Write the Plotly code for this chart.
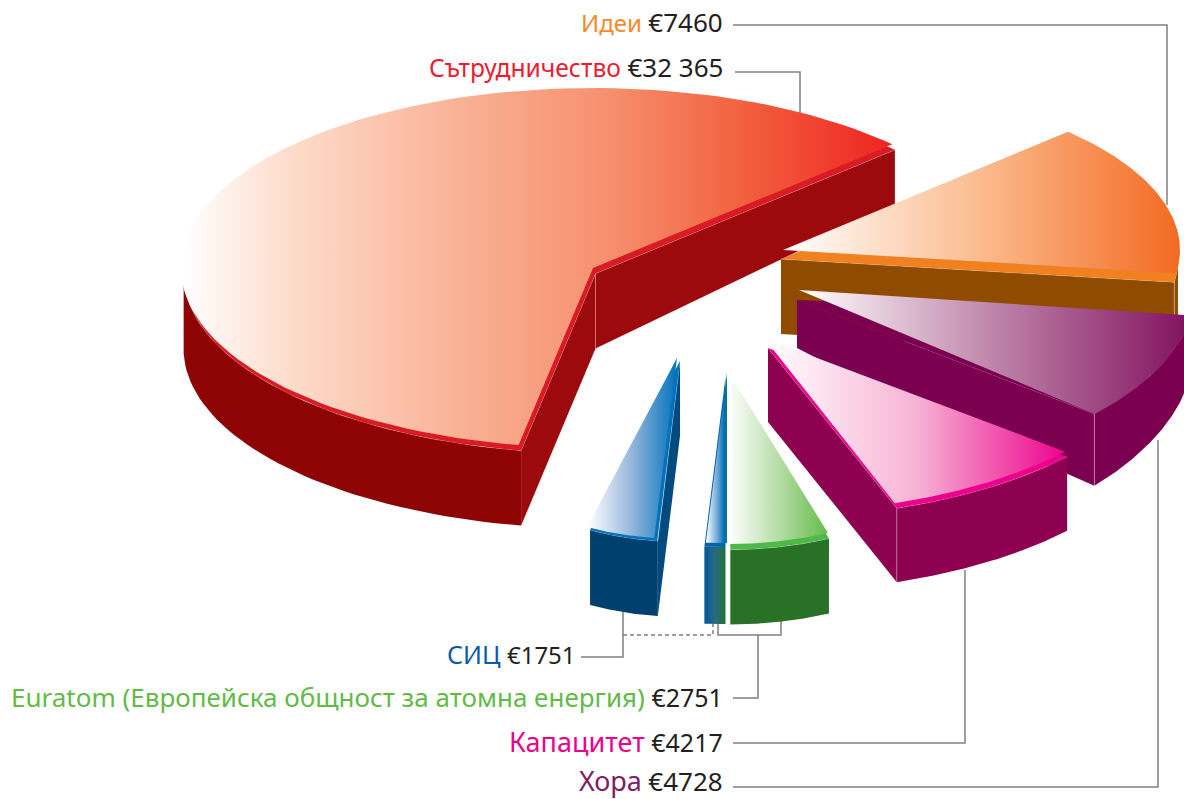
import numpy as np
import plotly.graph_objects as go

# ---- data ----
label_names = ["Идеи", "Сътрудничество", "СИЦ", "Euratom (Европейска общност за атомна енергия)", "Капацитет", "Хора"]
label_values = [7460, 32365, 1751, 2751, 4217, 4728]
label_colors = ["#f58a2c", "#ed1c2e", "#0a5aa8", "#62bb46", "#ec008c", "#7f1d66"]

slice_names = ["Сътрудничество", "Идеи", "Хора", "Капацитет", "Euratom", "СИЦ (тясна част)", "СИЦ"]
slice_values = [32365, 7460, 4728, 4217, 2751, 560, 1191]

# ---- illustration geometry (style, not data) ----
TOTAL = sum(label_values)
STYLE = {
    "Сътрудничество": dict(c=(593, 268), ab=(412, 180), start=259.6, gain=0.9885, off=(2.5, 5.5),
                           depth=((150, 55), (273, 75)),
                           top=[[0, "#ffffff"], [0.15, "#fddccb"], [0.4, "#f9b094"], [0.6, "#f6916f"],
                                [0.8, "#f2603f"], [1, "#ee2722"]],
                           gx=(183, 885), rim="#d91c24", arc="#8e0303", cut="#9c0a0e",
                           cuts=("first", "last"), hi=0.45, seam="apex"),
    "Идеи": dict(c=(783, 250), ab=(397, 170), start=44.1, gain=1.03, off=(-2, 9),
                 depth=((200, 75), (300, 75)), top=[[0, "#ffffff"], [0.5, "#fbbb8e"], [1, "#f36b23"]],
                 gx=(783, 1178), rim="#f08020", arc="#8f4b00", cut="#8f4b00",
                 cuts=("last",), hi=0.45, seam="end"),
    "Хора": dict(c=(799, 290), ab=(396, 186), start=-7.9, gain=1.06, off=(0, 0), apex_off=(-2, 10),
                 depth=((300, 48), (337, 61), (415, 72)), top=[[0, "#ffffff"], [0.5, "#bf86aa"], [1, "#831560"]],
                 gx=(799, 1184), rim="#7b0050", arc="#7b0050", cut="#7b0050",
                 cuts=("last",), hi=0.0, seam="end"),
    "Капацитет": dict(c=(764, 338), ab=(396, 175), start=-40.5, gain=1.06, off=(2, 5), apex_off=(4, 10),
                      depth=((300, 74), (600, 74)), top=[[0, "#ffffff"], [0.5, "#f7b3d4"], [1, "#ec008c"]],
                      gx=(764, 1068), rim="#ec008c", arc="#8e0050", cut="#8e0050",
                      cuts=("last",), hi=0.45, seam="end"),
    "Euratom": dict(c=(729, 373), ab=(280, 171), start=-69.3, gain=1.11, off=(1, 5.5),
                    depth=((300, 75), (600, 75)), top=[[0, "#ffffff"], [0.5, "#b5dca6"], [1, "#62bb46"]],
                    gx=(729, 830), rim="#4eb848", arc="#2a7128", cut="#2a7128",
                    cuts=(), hi=0.6, seam=None),
    "СИЦ (тясна част)": dict(c=(727, 373), ab=(400, 170), start=-90, gain=0.8, off=(-1.5, 4),
                             depth=((300, 77), (600, 77)),
                             top=[[0, "#ffffff"], [0.6, "#5f9fd4"], [0.85, "#0072bc"], [1, "#007a6a"]],
                             gx=(706, 727), rim="#0a62ae",
                             arc=[[0, "#00589e"], [0.5, "#2a6a80"], [1, "#1f7236"]], cut="#00589e",
                             cuts=(), hi=0.0, seam=None),
    "СИЦ": dict(c=(677, 358), ab=(254.5, 180.7), start=265, gain=1.95, off=(3, 3),
                depth=((300, 75), (600, 75)), top=[[0, "#ffffff"], [0.5, "#93b5dc"], [1, "#0072bc"]],
                gx=(588, 677), rim="#0072bc", arc="#00406f", cut="#004a80",
                cuts=("first",), hi=0.3, seam=None),
}

# leader lines, drawn beneath the slices
GREY = "#808080"
leaders = [
    ([733, 1167, 1167], [25, 25, 205], "solid"),
    ([735, 800, 800], [72, 72, 116], "solid"),
    ([581, 623, 623], [657, 657, 610], "solid"),
    ([623, 713, 713], [635, 635, 624], "4px,3px"),
    ([733, 758, 758], [698, 698, 635], "solid"),
    ([718, 718, 781, 781], [624, 635, 635, 620], "solid"),
    ([733, 965, 965], [743, 743, 570], "solid"),
    ([733, 1158, 1158], [787, 787, 440], "solid"),
]
label_x = [725, 725, 578, 725, 725, 725]
label_y = [22, 67, 654, 697, 741, 780]
name_px = [24, 24.6, 25, 26, 27, 27]
value_px = [26, 26, 24, 25, 25, 26]

fig = go.Figure()


def poly(x, y, fill):
    kw = dict(x=list(x), y=list(y), mode="lines", fill="toself", line=dict(width=0),
              hoverinfo="skip", showlegend=False)
    if isinstance(fill, str):
        kw["fillcolor"] = fill
    else:
        kw["fillgradient"] = fill
    fig.add_trace(go.Scatter(**kw))


def line(x, y, color, width=1.5, dash="solid"):
    fig.add_trace(go.Scatter(x=list(x), y=list(y), mode="lines", hoverinfo="skip", showlegend=False,
                             line=dict(color=color, width=width, dash=dash)))


for lx, ly, d in leaders:
    line(lx, ly, GREY, 1.5, d)

for name, value in zip(slice_names, slice_values):
    s = STYLE[name]
    cx, cy = s["c"]
    a, b = s["ab"]
    ox, oy = s["off"]
    aox, aoy = s.get("apex_off", s["off"])
    sweep = value / TOTAL * 360 * s["gain"]
    th = np.radians(np.linspace(s["start"], s["start"] - sweep, 120))
    ax, ay = cx + a * np.cos(th), cy - b * np.sin(th)
    dep = lambda yy: np.interp(yy, [p[0] for p in s["depth"]], [p[1] for p in s["depth"]])

    # cut faces
    for which in s["cuts"]:
        i = 0 if which == "first" else -1
        t = np.linspace(0, 1, 30)
        ex = cx + aox + (ax[i] + ox - cx - aox) * t
        ey = cy + aoy + (ay[i] + oy - cy - aoy) * t
        poly(np.r_[ex, ex[::-1]], np.r_[ey, (ey + dep(ey))[::-1]], s["cut"])

    # outer wall, only where the rim faces the viewer
    mask = np.sin(th) < 0.0
    if mask.any():
        wx, wy = ax[mask] + ox, ay[mask] + oy
        fill = s["arc"]
        if not isinstance(fill, str):
            fill = dict(type="horizontal", colorscale=fill, start=float(wx.min()), stop=float(wx.max()))
        poly(np.r_[wx, wx[::-1]], np.r_[wy, (wy + dep(wy))[::-1]], fill)
        if s["hi"]:
            line(wx, wy, f"rgba(255,255,255,{s['hi']})", 0.8)

    # pale seams and edges
    if s["hi"]:
        for which in s["cuts"]:
            i = 0 if which == "first" else -1
            line([cx + aox, ax[i] + ox], [cy + aoy, ay[i] + oy], f"rgba(255,255,255,{s['hi']})", 0.8)
    if s["seam"] == "apex":
        sx, sy = cx + aox, cy + aoy
        line([sx, sx], [sy, sy + dep(sy)], "rgba(255,255,255,0.35)", 0.8)
    elif s["seam"] == "end":
        sx, sy = ax[-1] + ox, ay[-1] + oy
        line([sx, sx], [sy, sy + dep(sy)], "rgba(255,255,255,0.45)", 0.8)

    # rim and top face
    rx = np.r_[cx + aox, ax + ox, cx + aox]
    ry = np.r_[cy + aoy, ay + oy, cy + aoy]
    poly(rx, ry, s["rim"])
    tx, ty = np.r_[cx, ax, cx], np.r_[cy, ay, cy]
    poly(tx, ty, dict(type="horizontal", colorscale=s["top"], start=s["gx"][0], stop=s["gx"][1]))

annotations = []
for n, v, c, x, y, px, vpx in zip(label_names, label_values, label_colors, label_x, label_y, name_px, value_px):
    txt = f"{v:,}".replace(",", " ") if v >= 10000 else str(v)
    annotations.append(dict(x=x, y=y, xref="x", yref="y", xanchor="right", yanchor="middle", showarrow=False,
                            text=f'<span style="color:{c};font-size:{px}px">{n}</span> '
                                 f'<span style="color:#231f20;font-size:{vpx}px">€{txt}</span>',
                            font=dict(family="Noto Sans", size=25), align="right"))

fig.update_layout(
    width=1184, height=799, margin=dict(l=0, r=0, t=0, b=0), paper_bgcolor="white", plot_bgcolor="white",
    xaxis=dict(range=[0, 1184], visible=False, fixedrange=True),
    yaxis=dict(range=[799, 0], visible=False, fixedrange=True),
    annotations=annotations, showlegend=False,
)
fig.write_html("out.html", config=dict(displayModeBar=False),
               post_script="document.body.style.margin='0';document.body.style.overflow='hidden';")
